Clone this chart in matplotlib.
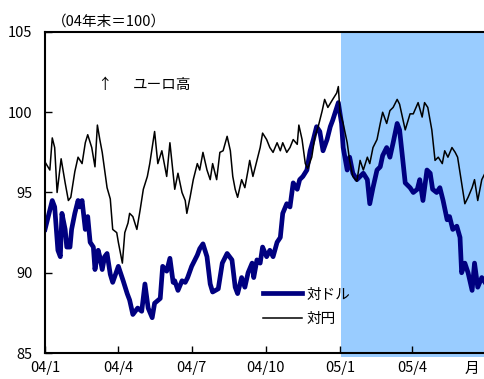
import numpy as np
import pandas as pd
import matplotlib
matplotlib.use('Agg')
import matplotlib.pyplot as plt
import matplotlib.transforms as mtransforms

plt.rcParams['font.family'] = ['Noto Sans CJK JP', 'DejaVu Sans']

# days since 2004-01-01, index (end of 2004 = 100)
usd_days = [0, 4, 9, 12, 16, 19, 21, 25, 27, 31, 33, 37, 41, 43, 46, 50, 53, 56, 60, 62,
            66, 68, 71, 74, 77, 81, 84, 91, 97, 102, 105, 109, 115, 120, 124, 128, 133, 136,
            143, 146, 151, 155, 159, 161, 165, 170, 174, 177, 182, 189, 192, 196, 201, 205,
            208, 215, 220, 226, 232, 236, 239, 244, 248, 252, 257, 259, 263, 267, 270, 275,
            279, 283, 288, 292, 295, 300, 304, 308, 313, 316, 320, 325, 329, 333, 337, 341,
            345, 350, 354, 357, 362, 364, 368, 370, 375, 378, 382, 387, 391, 395, 400, 403,
            407, 412, 416, 419, 424, 428, 432, 437, 440, 447, 453, 457, 462, 465, 469, 474,
            478, 481, 486, 490, 494, 499, 502, 506, 511, 515, 517, 521, 525, 530, 533, 537,
            542, 546]
usd_vals = [92.7, 93.5, 94.5, 94.1, 91.4, 91.0, 93.7, 92.7, 91.6, 91.6, 92.7, 93.7, 94.5,
            94.1, 94.5, 92.7, 93.5, 91.9, 91.6, 90.2, 91.4, 91.0, 90.2, 91.0, 91.2, 89.9,
            89.4, 90.4, 89.5, 88.7, 88.3, 87.4, 87.8, 87.6, 89.3, 87.8, 87.2, 88.1, 88.4,
            90.4, 90.1, 90.9, 89.4, 89.5, 88.9, 89.5, 89.4, 89.7, 90.4, 91.1, 91.5, 91.8,
            91.0, 89.3, 88.8, 89.0, 90.6, 91.2, 90.8, 89.1, 88.7, 89.7, 89.1, 90.0, 90.6,
            89.7, 90.8, 90.6, 91.6, 91.0, 91.4, 91.0, 91.9, 92.2, 93.7, 94.3, 94.1, 95.6,
            95.2, 95.8, 96.0, 96.4, 97.6, 98.3, 99.1, 98.8, 97.6, 98.3, 99.1, 99.5, 100.3,
            100.6, 99.3, 97.8, 96.4, 97.2, 96.2, 95.8, 96.0, 96.2, 95.8, 94.3, 95.3, 96.4,
            96.6, 97.3, 97.8, 97.2, 98.1, 99.3, 98.9, 95.6, 95.3, 95.0, 95.2, 95.8, 94.5,
            96.4, 96.2, 95.2, 95.0, 95.3, 94.5, 93.3, 93.5, 92.7, 92.9, 92.2, 90.0, 90.6,
            90.0, 88.9, 90.6, 89.1, 89.7, 89.4]

jpy_days = [0, 6, 9, 12, 15, 20, 25, 29, 32, 37, 41, 46, 50, 53, 58, 62, 65, 68, 71, 77,
            81, 84, 89, 91, 96, 99, 103, 105, 109, 114, 118, 122, 127, 130, 136, 140, 145,
            151, 155, 161, 165, 170, 174, 176, 180, 184, 189, 192, 196, 201, 205, 208, 213,
            217, 221, 226, 230, 233, 236, 239, 244, 248, 252, 254, 258, 263, 267, 270, 275,
            279, 283, 288, 292, 295, 300, 304, 308, 313, 315, 319, 323, 326, 331, 335, 339,
            344, 347, 351, 357, 362, 364, 366, 370, 375, 378, 382, 387, 391, 395, 400, 403,
            407, 412, 416, 419, 424, 428, 432, 437, 440, 447, 453, 457, 463, 468, 471, 475,
            480, 484, 488, 493, 496, 500, 505, 509, 512, 517, 521, 525, 530, 533, 537, 542,
            546]
jpy_vals = [96.9, 96.4, 98.4, 97.8, 95.0, 97.1, 95.6, 94.5, 94.7, 96.3, 97.2, 96.8, 98.1,
            98.6, 97.8, 96.6, 99.2, 98.3, 97.5, 95.3, 94.6, 92.7, 92.5, 91.9, 90.6, 92.5,
            93.1, 93.7, 93.5, 92.7, 93.9, 95.2, 96.0, 96.8, 98.8, 96.8, 97.6, 96.0, 98.1,
            95.2, 96.2, 95.0, 94.5, 93.7, 94.7, 95.8, 96.8, 96.4, 97.5, 96.4, 95.8, 96.8,
            95.8, 97.5, 97.6, 98.5, 97.6, 96.0, 95.2, 94.7, 95.8, 95.3, 96.4, 97.0, 96.0,
            97.0, 97.8, 98.7, 98.3, 97.8, 97.5, 98.1, 97.6, 98.1, 97.5, 97.8, 98.3, 98.0,
            99.2, 98.3, 96.8, 96.5, 97.2, 98.5, 99.1, 100.1, 100.8, 100.3, 100.8, 101.2,
            101.6, 100.0, 99.3, 98.1, 97.0, 96.0, 95.7, 97.0, 96.4, 97.2, 96.8, 97.8,
            98.3, 99.3, 100.0, 99.3, 100.1, 100.3, 100.8, 100.5, 98.9, 99.9, 99.9, 100.6,
            99.7, 100.6, 100.3, 98.9, 97.0, 97.2, 96.8, 97.6, 97.2, 97.8, 97.5, 97.2, 95.6,
            94.3, 94.7, 95.3, 95.8, 94.5, 95.8, 96.2]

tick_days = [0, 91, 182, 274, 366, 456]
tick_labels = ['04/1', '04/4', '04/7', '04/10', '05/1', '05/4']

start = pd.Timestamp('2004-01-01')
usd_x = start + pd.to_timedelta(usd_days, unit='D')
jpy_x = start + pd.to_timedelta(jpy_days, unit='D')
ticks_x = start + pd.to_timedelta(tick_days, unit='D')
x_end = start + pd.Timedelta(days=546)

fig = plt.figure(figsize=(4.85, 3.79), dpi=100)
ax = fig.add_axes([0.0928, 0.0686, 0.9072, 0.847])

# shaded 2005 period
ax.axvspan(start + pd.Timedelta(days=367), x_end, ymin=-0.012, ymax=1.0,
           color='#99ccff', lw=0, clip_on=False, zorder=0)

ax.plot(usd_x, usd_vals, color='#000080', lw=3.4, label='対ドル', zorder=2)
ax.plot(jpy_x, jpy_vals, color='black', lw=1.1, label='対円', zorder=3)

ax.set_xlim(start, x_end)
ax.set_ylim(85, 105)
ax.set_yticks([85, 90, 95, 100, 105])
ax.set_xticks(ticks_x)
ax.set_xticklabels(tick_labels)
ax.tick_params(direction='in', length=5, width=1, labelsize=10.5, colors='black')
ax.tick_params(axis='y', pad=9)
ax.tick_params(axis='x', pad=6)

for s in ['left', 'top', 'bottom']:
    ax.spines[s].set_linewidth(1.5)
ax.spines['right'].set_visible(False)

trans = mtransforms.blended_transform_factory(ax.transAxes, ax.transAxes)
ax.text(0.97, -0.028, '月', transform=trans, ha='center', va='top', fontsize=10.5)

ax.text(0.015, 1.01, '（04年末＝100）', transform=ax.transAxes, ha='left', va='bottom',
        fontsize=10.5)
ax.text(0.135, 0.835, '↑', transform=ax.transAxes, ha='center', va='center', fontsize=10.5)
ax.text(0.2, 0.835, 'ユーロ高', transform=ax.transAxes, ha='left', va='center', fontsize=10.5)

ax.legend(loc='upper left', bbox_to_anchor=(0.482, 0.222), frameon=False, fontsize=10.5,
          handlelength=2.7, handletextpad=0.3, labelspacing=0.7, borderaxespad=0)

fig.savefig('out.png', dpi=100)
